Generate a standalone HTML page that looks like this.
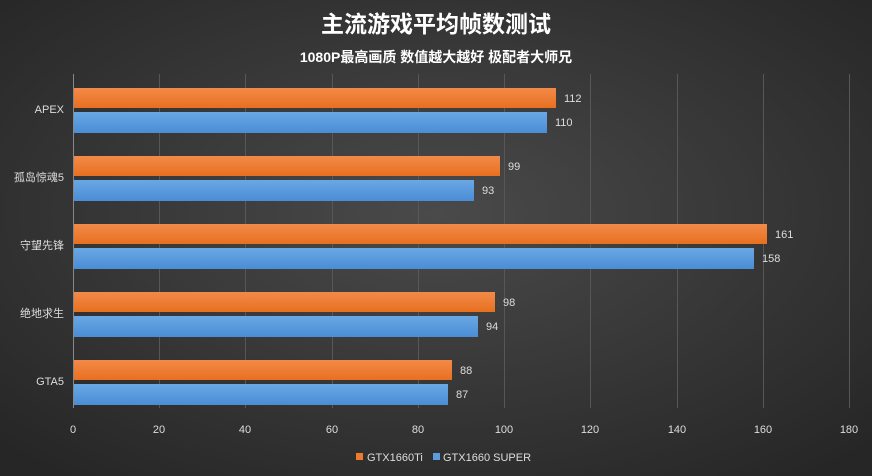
<!DOCTYPE html>
<html><head><meta charset="utf-8"><style>
body{margin:0;width:872px;height:476px;overflow:hidden;background:#333}
svg{display:block;font-family:"Liberation Sans","Noto Sans CJK SC",sans-serif}
</style></head><body>
<svg width="872" height="476" viewBox="0 0 872 476">
<defs>
<radialGradient id="bg" cx="50%" cy="45%" r="70%">
<stop offset="0" stop-color="#4a4a4a"/><stop offset="1" stop-color="#262626"/>
</radialGradient>
<linearGradient id="og" x1="0" y1="0" x2="0" y2="1"><stop offset="0" stop-color="#f28a4a"/><stop offset="1" stop-color="#e8701f"/></linearGradient>
<linearGradient id="bl" x1="0" y1="0" x2="0" y2="1"><stop offset="0" stop-color="#6aa8e4"/><stop offset="1" stop-color="#4a8dd6"/></linearGradient>
</defs>
<rect width="872" height="476" fill="url(#bg)"/>
<text x="436" y="32" text-anchor="middle" fill="#fff" font-size="23" font-weight="bold">主流游戏平均帧数测试</text>
<text x="436" y="62" text-anchor="middle" fill="#fff" font-size="14" font-weight="bold">1080P最高画质 数值越大越好 极配者大师兄</text>
<g stroke="#575757" stroke-width="1">
<line x1="159.5" y1="74" x2="159.5" y2="408"/><line x1="245.5" y1="74" x2="245.5" y2="408"/>
<line x1="332.5" y1="74" x2="332.5" y2="408"/><line x1="418.5" y1="74" x2="418.5" y2="408"/>
<line x1="504.5" y1="74" x2="504.5" y2="408"/><line x1="590.5" y1="74" x2="590.5" y2="408"/>
<line x1="677.5" y1="74" x2="677.5" y2="408"/><line x1="763.5" y1="74" x2="763.5" y2="408"/>
<line x1="849.5" y1="74" x2="849.5" y2="408"/>
</g>
<line x1="73.5" y1="74" x2="73.5" y2="408" stroke="#888"/>
<g font-size="11" fill="#ddd" text-anchor="middle">
<text x="73" y="433">0</text><text x="159" y="433">20</text><text x="245" y="433">40</text><text x="332" y="433">60</text><text x="418" y="433">80</text><text x="504" y="433">100</text><text x="590" y="433">120</text><text x="677" y="433">140</text><text x="763" y="433">160</text><text x="849" y="433">180</text>
</g>
<g font-size="11" fill="#ddd" text-anchor="end">
<text x="64" y="113">APEX</text><text x="64" y="181">孤岛惊魂5</text><text x="64" y="249">守望先锋</text><text x="64" y="317">绝地求生</text><text x="64" y="385">GTA5</text>
</g>
<g>
<rect x="74" y="88" width="482" height="20" fill="url(#og)"/><rect x="74" y="112" width="473" height="21" fill="url(#bl)"/>
<rect x="74" y="156" width="426" height="20" fill="url(#og)"/><rect x="74" y="180" width="400" height="21" fill="url(#bl)"/>
<rect x="74" y="224" width="693" height="20" fill="url(#og)"/><rect x="74" y="248" width="680" height="21" fill="url(#bl)"/>
<rect x="74" y="292" width="421" height="20" fill="url(#og)"/><rect x="74" y="316" width="404" height="21" fill="url(#bl)"/>
<rect x="74" y="360" width="378" height="20" fill="url(#og)"/><rect x="74" y="384" width="374" height="21" fill="url(#bl)"/>
</g>
<g font-size="11" fill="#ddd">
<text x="564" y="102">112</text><text x="555" y="126">110</text>
<text x="508" y="170">99</text><text x="482" y="194">93</text>
<text x="775" y="238">161</text><text x="762" y="262">158</text>
<text x="503" y="306">98</text><text x="486" y="330">94</text>
<text x="460" y="374">88</text><text x="456" y="398">87</text>
</g>
<rect x="356" y="453" width="7" height="7" fill="#ee7a30"/>
<text x="367" y="461" font-size="11" fill="#ddd">GTX1660Ti</text>
<rect x="433" y="453" width="7" height="7" fill="#5b9be0"/>
<text x="443" y="461" font-size="11" fill="#ddd">GTX1660 SUPER</text>
</svg>
</body></html>
